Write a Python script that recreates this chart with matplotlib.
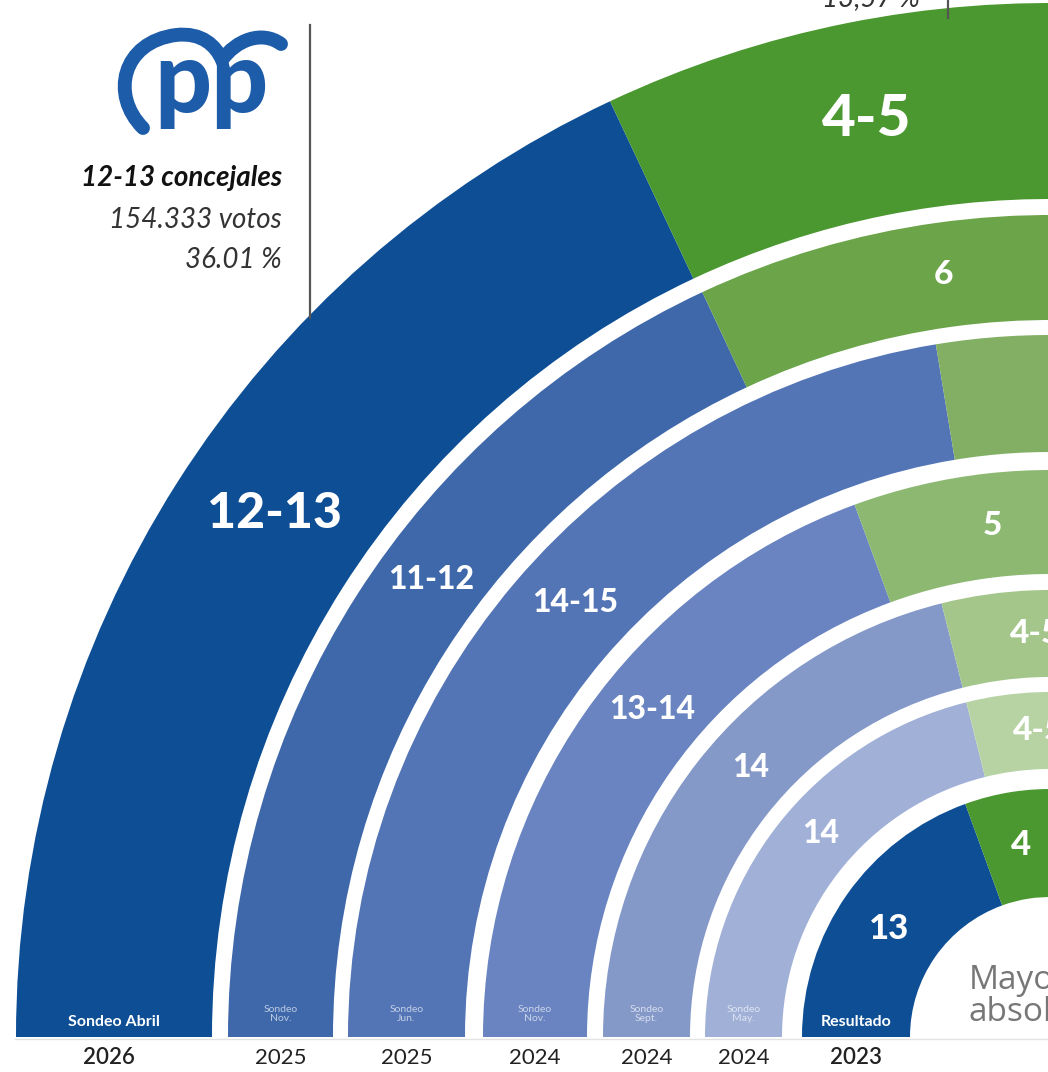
import numpy as np
import matplotlib
matplotlib.use("Agg")
import matplotlib.pyplot as plt
from matplotlib.patches import Wedge, PathPatch
from matplotlib.path import Path

plt.rcParams['font.family'] = ['Lato', 'DejaVu Sans']

# one ring per poll, outermost first
poll_names = ["Sondeo Abril", "Sondeo\nNov.", "Sondeo\nJun.", "Sondeo\nNov.",
              "Sondeo\nSept.", "Sondeo\nMay.", "Resultado"]
poll_years = ["2026", "2025", "2025", "2024", "2024", "2024", "2023"]
pp_pct = [36.01, 36.1, 44.8, 38.8, 42.2, 42.2, 38.9]
vox_pct = [15.4, 19.0, 13.0, 15.3, 13.3, 13.3, 12.6]
pp_seats = ["12-13", "11-12", "14-15", "13-14", "14", "14", "13"]
vox_seats = ["4-5", "6", "", "5", "4-5", "4-5", "4"]

pp_colors = ["#0d4e95", "#3e68aa", "#5375b6", "#6984c0", "#8599c9", "#a0b0d7", "#0d4e95"]
vox_colors = ["#4a982f", "#6ca449", "#82af64", "#8db872", "#a4c68b", "#b8d3a3", "#4a982f"]

# layout (pixels)
cx, cy = 1050, 1037
r_out = [1034, 822, 702, 567, 447, 345, 248]
r_in = [838, 717, 585, 463, 360, 268, 140]
pp_label_ang = [34.0, 36.5, 42.5, 39.5, 42.0, 41.5, 34.0]
big = [True, False, False, False, False, False, True]

fig = plt.figure(figsize=(10.48, 10.72), dpi=100)
ax = fig.add_axes([0, 0, 1, 1])
ax.set_xlim(0, 1048)
ax.set_ylim(1072, 0)
ax.axis('off')


def polar(r, a):
    t = np.radians(a)
    return cx - r * np.cos(t), cy - r * np.sin(t)


for i in range(len(pp_pct)):
    ro, ri = r_out[i], r_in[i]
    a_pp = pp_pct[i] * 1.8
    a_vx = vox_pct[i] * 1.8
    ax.add_patch(Wedge((cx, cy), ro, 180, 180 + a_pp, width=ro - ri,
                       facecolor=pp_colors[i], edgecolor='none'))
    ax.add_patch(Wedge((cx, cy), ro, 180 + a_pp, 180 + a_pp + a_vx, width=ro - ri,
                       facecolor=vox_colors[i], edgecolor='none'))
    rm = (ro + ri) / 2
    if i == 0:
        fs_pp, fs_vx = 36, 42
    elif i == 6:
        fs_pp, fs_vx = 25, 25
    else:
        fs_pp, fs_vx = 23, 24
    x, y = polar(rm, pp_label_ang[i])
    ax.text(x, y, pp_seats[i], color='white', fontsize=fs_pp, fontweight='black',
            ha='center', va='center')
    if vox_seats[i]:
        x, y = polar(rm, a_pp + a_vx / 2)
        ax.text(x, y, vox_seats[i], color='white', fontsize=fs_vx, fontweight='black',
                ha='center', va='center')
    # bottom labels inside ring and year under it
    xm = cx - rm
    if big[i]:
        ax.text(xm, 1022, poll_names[i], color='white', fontsize=11.5,
                fontweight='bold', ha='center', va='center')
    else:
        ax.text(xm, 1014, poll_names[i], color='white', alpha=0.65, fontsize=7.5,
                ha='center', va='center', linespacing=1.0)
    ax.text(xm - (5 if i == 0 else 0), 1058, poll_years[i], color='#222222', fontsize=16,
            fontweight='semibold' if big[i] else 'normal', ha='center', va='center')

ax.plot([15, 1048], [1038.5, 1038.5], color='#e2e2e2', lw=1)

# centre text
ax.text(969, 1021, "Mayoría\nabsoluta", color='#777777', fontsize=24,
        family=['Open Sans', 'DejaVu Sans'], ha='left', va='baseline',
        linespacing=0.95)

# PP block
pp_blue = "#1d5ca9"
ax.text(211, 112, "pp", color=pp_blue, fontsize=72, fontweight='black',
        ha='center', va='baseline')
verts = [(143, 128), (110, 95), (122, 42), (176, 35),
         (202, 32), (216, 46), (222, 60),
         (236, 40), (262, 30), (281, 44)]
codes = [Path.MOVETO] + [Path.CURVE4] * 9
ax.add_patch(PathPatch(Path(verts, codes), facecolor='none', edgecolor=pp_blue,
                       lw=10, capstyle='round'))
ax.text(282, 186, "12-13 concejales", color='#111111', fontsize=20, fontweight='bold',
        style='italic', ha='right', va='baseline')
ax.text(282, 228, "154.333 votos", color='#333333', fontsize=20, fontweight='normal',
        style='italic', ha='right', va='baseline')
ax.text(282, 268, "36.01 %", color='#333333', fontsize=20, fontweight='normal',
        style='italic', ha='right', va='baseline')
ax.plot([310, 310], [25, 318], color='#555555', lw=1.6)

# next party's block, cut off at the top
ax.text(920, 6, "13,57 %", color='#333333', fontsize=20, fontweight='normal',
        style='italic', ha='right', va='baseline')
ax.plot([948, 948], [0, 18], color='#555555', lw=1.6)

fig.savefig("out.png", dpi=100)
